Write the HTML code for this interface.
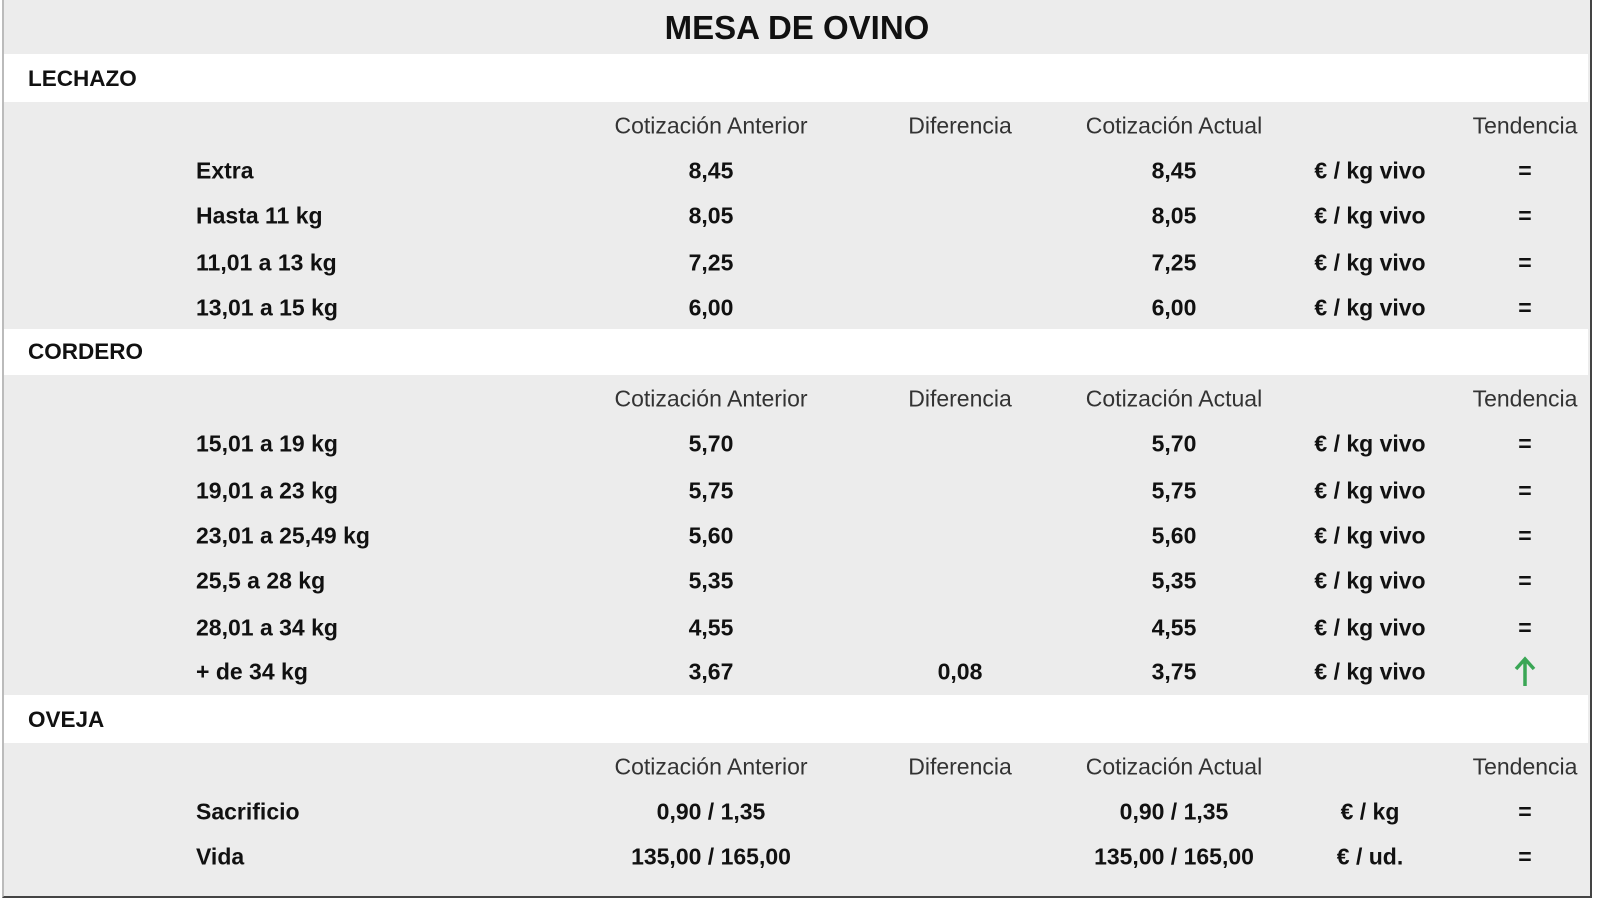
<!DOCTYPE html>
<html><head><meta charset="utf-8"><style>
body{margin:0;width:1600px;height:903px;background:#fff;font-family:"Liberation Sans",sans-serif;position:relative;overflow:hidden}
.bg{position:absolute;left:2px;top:0;width:1586px;height:896px;background:#ececec;border-right:2px solid #444;border-bottom:2px solid #444;border-left:2px solid #bbb}
.band{position:absolute;left:4px;width:1584px;background:#fff}
.t{position:absolute;white-space:nowrap;transform:translate(-50%,-50%);font-size:23px;color:#111;font-weight:bold}
.l{position:absolute;white-space:nowrap;transform:translateY(-50%);font-size:23px;color:#111;font-weight:bold}
.h{font-weight:normal;color:#333}
</style></head><body>
<div class="bg"></div>
<div class="band" style="top:54px;height:48px"></div>
<div class="band" style="top:329px;height:46px"></div>
<div class="band" style="top:695px;height:48px"></div>
<div class="t" style="left:797px;top:28px;font-size:33px">MESA DE OVINO</div>
<div class="l" style="left:28px;top:79px;font-size:22.5px">LECHAZO</div>
<div class="l" style="left:28px;top:352px;font-size:22.5px">CORDERO</div>
<div class="l" style="left:28px;top:720px;font-size:22.5px">OVEJA</div>
<div id="c"></div>
<script>
var X=[711,960,1174,1370,1525];
var rows=[
[126,'H'],
[171,'Extra','8,45','','8,45','€ / kg vivo','='],
[216,'Hasta 11 kg','8,05','','8,05','€ / kg vivo','='],
[263,'11,01 a 13 kg','7,25','','7,25','€ / kg vivo','='],
[308,'13,01 a 15 kg','6,00','','6,00','€ / kg vivo','='],
[399,'H'],
[444,'15,01 a 19 kg','5,70','','5,70','€ / kg vivo','='],
[491,'19,01 a 23 kg','5,75','','5,75','€ / kg vivo','='],
[536,'23,01 a 25,49 kg','5,60','','5,60','€ / kg vivo','='],
[581,'25,5 a 28 kg','5,35','','5,35','€ / kg vivo','='],
[628,'28,01 a 34 kg','4,55','','4,55','€ / kg vivo','='],
[672,'+ de 34 kg','3,67','0,08','3,75','€ / kg vivo','UP'],
[767,'H'],
[812,'Sacrificio','0,90 / 1,35','','0,90 / 1,35','€ / kg','='],
[857,'Vida','135,00 / 165,00','','135,00 / 165,00','€ / ud.','=']];
var s='';
rows.forEach(function(r){var y=r[0];
if(r[1]=='H'){var hs=['Cotización Anterior','Diferencia','Cotización Actual','','Tendencia'];
hs.forEach(function(h,i){if(h)s+='<div class="t h" style="left:'+X[i]+'px;top:'+y+'px">'+h+'</div>';});return;}
s+='<div class="l" style="left:196px;top:'+y+'px">'+r[1]+'</div>';
for(var i=0;i<5;i++){var v=r[i+2];if(!v)continue;
if(v=='UP')s+='<svg style="position:absolute;left:'+(X[i]-12)+'px;top:'+(y-16)+'px" width="24" height="32"><path d="M12 30V4M3 13L12 3L21 13" stroke="#3aa655" stroke-width="3.5" fill="none"/></svg>';
else s+='<div class="t" style="left:'+X[i]+'px;top:'+y+'px">'+v+'</div>';}
});
document.getElementById('c').innerHTML=s;
</script>
</body></html>
